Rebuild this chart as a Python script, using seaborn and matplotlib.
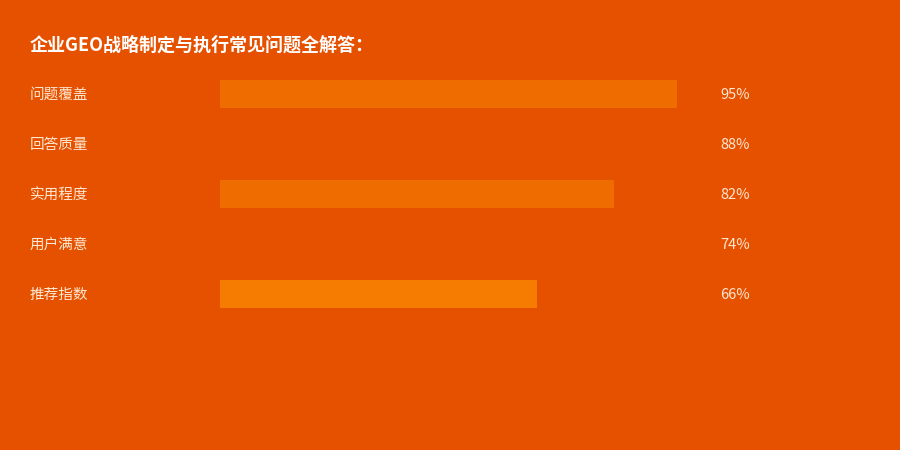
import matplotlib
matplotlib.use("Agg")
import matplotlib.pyplot as plt
import matplotlib.transforms as mtrans
import seaborn as sns
import pandas as pd

# ---------- DATA ----------
title = "企业GEO战略制定与执行常见问题全解答："
categories = ["问题覆盖", "回答质量", "实用程度", "用户满意", "推荐指数"]
values = [95, 88, 82, 74, 66]
bar_colors = ["#EF6C00", "#E65100", "#EF6C00", "#E65100", "#F57C00"]

BG = "#E65100"
TXT = "#FFE8D2"

sns.set_theme(style="white")
plt.rcParams["font.family"] = ["Noto Sans CJK SC", "DejaVu Sans"]

df = pd.DataFrame({"cat": categories, "val": values})

fig = plt.figure(figsize=(9, 4.5), dpi=100)
fig.patch.set_facecolor(BG)
ax = fig.add_axes([0, 0, 1, 1])
ax.set_facecolor(BG)

sns.barplot(data=df, y="cat", x="val", hue="cat", palette=bar_colors,
            orient="h", width=0.56, legend=False, ax=ax, saturation=1,
            linewidth=0, edgecolor="none")

# map 0..100 onto pixels 220..701, rows 50px apart starting at y=94
px = 100 / 481
ax.set_xlim(-220 * px, -220 * px + 900 * px)
ax.set_ylim((450 - 94) / 50, -94 / 50)
ax.axis("off")

tr = mtrans.blended_transform_factory(fig.transFigure, ax.transData)
for i, (c, v) in enumerate(zip(categories, values)):
    ax.text(30 / 900, i + 0.02, c, transform=tr, color=TXT, fontsize=10.5,
            va="center", ha="left")
    ax.text(720 / 900, i + 0.02, f"{v}%", transform=tr, color=TXT, fontsize=10.5,
            va="center", ha="left")

fig.text(30 / 900, 1 - 45 / 450, title, color="white", fontsize=13,
         fontweight="bold", va="center", ha="left")

fig.savefig("out.png", dpi=100, facecolor=BG)
